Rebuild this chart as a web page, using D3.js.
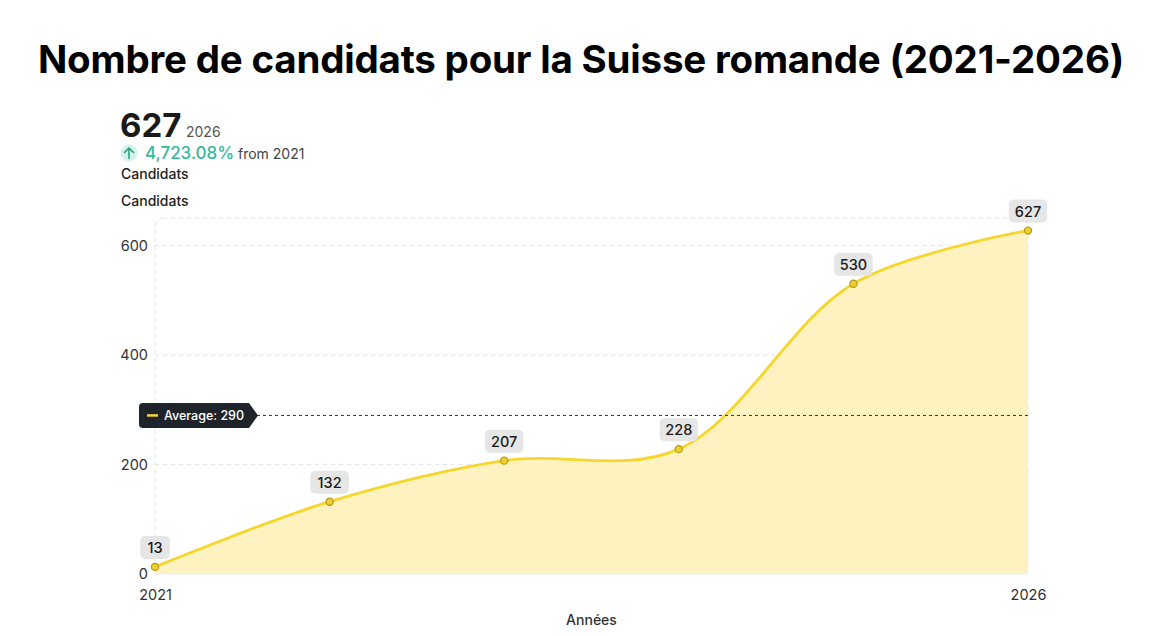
<!DOCTYPE html>
<html>
<head>
<meta charset="utf-8">
<script src="https://cdn.jsdelivr.net/npm/d3@7"></script>
<style>
  body { margin: 0; background: #fff; font-family: Inter, "Noto Sans", sans-serif; }
  svg { display: block; }
</style>
</head>
<body>
<div id="chart"></div>
<script>
const years = ["2021", "2022", "2023", "2024", "2025", "2026"];
const candidats = [13, 132, 207, 228, 530, 627];
const yTicks = [0, 200, 400, 600];
const xTickLabels = ["2021", "2026"];

const W = 1170, H = 635;
const margin = { top: 218, right: 142, bottom: 61, left: 155 };
const width = W - margin.left - margin.right,
      height = H - margin.top - margin.bottom;

const svg = d3.select("#chart").append("svg")
    .attr("width", W)
    .attr("height", H);

// title
svg.append("text")
    .attr("x", 581)
    .attr("y", 73)
    .attr("text-anchor", "middle")
    .style("font-size", "38.5px")
    .style("font-weight", 700)
    .style("letter-spacing", "-0.2px")
    .attr("fill", "#000")
    .text("Nombre de candidats pour la Suisse romande (2021-2026)");

// header summary
const last = candidats[candidats.length - 1], first = candidats[0];
const pct = (last - first) / first * 100;
const head = svg.append("g");
head.append("text")
    .attr("x", 120).attr("y", 137)
    .style("font-size", "33px").style("font-weight", 700)
    .attr("fill", "#1a1a1a")
    .text(last);
head.append("text")
    .attr("x", 186).attr("y", 137)
    .style("font-size", "14px")
    .attr("fill", "#555")
    .text(years[years.length - 1]);
head.append("circle")
    .attr("cx", 129).attr("cy", 153).attr("r", 8.5)
    .attr("fill", "#d3f2ea");
head.append("path")
    .attr("d", "M129,158.5 V148 M124.5,152.5 L129,148 L133.5,152.5")
    .attr("fill", "none")
    .attr("stroke", "#2a9d80")
    .attr("stroke-width", 1.6)
    .attr("stroke-linecap", "round")
    .attr("stroke-linejoin", "round");
head.append("text")
    .attr("x", 145).attr("y", 159)
    .style("font-size", "17px").style("font-weight", 500)
    .attr("fill", "#34b99a")
    .text(d3.format(",.2f")(pct) + "%");
head.append("text")
    .attr("x", 238).attr("y", 159)
    .style("font-size", "14px")
    .attr("fill", "#444")
    .text("from " + years[0]);
head.append("text")
    .attr("x", 121).attr("y", 179)
    .style("font-size", "14px").style("font-weight", 500)
    .attr("fill", "#222")
    .text("Candidats");
head.append("text")
    .attr("x", 121).attr("y", 206)
    .style("font-size", "14px").style("font-weight", 500)
    .attr("fill", "#222")
    .text("Candidats");

const g = svg.append("g")
    .attr("transform", `translate(${margin.left},${margin.top})`);

const x = d3.scalePoint()
    .domain(years)
    .range([0, width]);

const y = d3.scaleLinear()
    .domain([0, 650])
    .range([height, 0]);

// frame + grid
g.append("rect")
    .attr("x", 0).attr("y", 0)
    .attr("width", width).attr("height", height)
    .attr("rx", 8)
    .attr("fill", "none")
    .attr("stroke", "#e3e3e3")
    .attr("stroke-dasharray", "4,4");

g.append("g")
    .selectAll("line")
    .data(yTicks)
    .join("line")
    .attr("x1", 0).attr("x2", width)
    .attr("y1", d => y(d)).attr("y2", d => y(d))
    .attr("stroke", "#e3e3e3")
    .attr("stroke-dasharray", "4,4");

// axes
const yAxis = g.append("g")
    .call(d3.axisLeft(y).tickValues(yTicks).tickSize(0).tickPadding(7));
yAxis.select(".domain").remove();
yAxis.selectAll("text")
    .style("font-family", "Inter, sans-serif")
    .style("font-size", "14.5px")
    .attr("fill", "#333");

const xAxis = g.append("g")
    .attr("transform", `translate(0,${height})`)
    .call(d3.axisBottom(x).tickValues(xTickLabels).tickSize(0).tickPadding(16));
xAxis.select(".domain").remove();
xAxis.selectAll("text")
    .style("font-family", "Inter, sans-serif")
    .style("font-size", "14.5px")
    .attr("fill", "#333");

svg.append("text")
    .attr("x", margin.left + width / 2)
    .attr("y", 625)
    .attr("text-anchor", "middle")
    .style("font-size", "14px").style("font-weight", 500)
    .attr("fill", "#333")
    .text("Années");

// area + line
const data = years.map((yr, i) => ({ year: yr, value: candidats[i] }));

const curve = d3.curveCatmullRom.alpha(0.5);

const area = d3.area()
    .x(d => x(d.year))
    .y0(height)
    .y1(d => y(d.value))
    .curve(curve);

const line = d3.line()
    .x(d => x(d.year))
    .y(d => y(d.value))
    .curve(curve);

g.append("path")
    .datum(data)
    .attr("d", area)
    .attr("fill", "#fdf1bd")
    .attr("opacity", 0.95);

g.append("path")
    .datum(data)
    .attr("d", line)
    .attr("fill", "none")
    .attr("stroke", "#f7d62c")
    .attr("stroke-width", 2.8);

// average line
const avg = d3.mean(candidats);
g.append("line")
    .attr("x1", 0).attr("x2", width)
    .attr("y1", y(avg)).attr("y2", y(avg))
    .attr("stroke", "#333")
    .attr("stroke-width", 1)
    .attr("stroke-dasharray", "3,3");

const badge = svg.append("g")
    .attr("transform", `translate(139,${margin.top + y(avg)})`);
badge.append("path")
    .attr("d", "M4,-12.5 H110 L119,0 L110,12.5 H4 Q0,12.5 0,8.5 V-8.5 Q0,-12.5 4,-12.5 Z")
    .attr("fill", "#1f242a");
badge.append("line")
    .attr("x1", 8).attr("x2", 19)
    .attr("y1", 0).attr("y2", 0)
    .attr("stroke", "#f7d62c")
    .attr("stroke-width", 2.5);
badge.append("text")
    .attr("x", 25).attr("y", 4.5)
    .style("font-size", "12.5px").style("font-weight", 500)
    .attr("fill", "#fff")
    .text("Average: " + Math.round(avg));

// points + labels
const pts = g.append("g")
    .selectAll("g")
    .data(data)
    .join("g")
    .attr("transform", d => `translate(${x(d.year)},${y(d.value)})`);

pts.append("circle")
    .attr("r", 3.6)
    .attr("fill", "#f0cf2a")
    .attr("stroke", "#b39a1a")
    .attr("stroke-width", 1.2);

pts.append("rect")
    .attr("x", d => -(String(d.value).length * 4.4 + 6))
    .attr("y", -31)
    .attr("width", d => String(d.value).length * 8.8 + 12)
    .attr("height", 23)
    .attr("rx", 5)
    .attr("fill", "#e6e6e6");

pts.append("text")
    .attr("y", -14)
    .attr("text-anchor", "middle")
    .style("font-size", "14.5px").style("font-weight", 500)
    .attr("fill", "#1a1a1a")
    .text(d => d.value);
</script>
</body>
</html>
